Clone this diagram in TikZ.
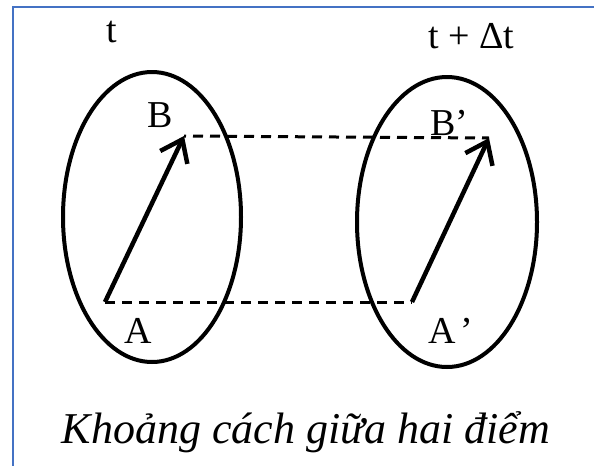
\documentclass[tikz,border=0pt]{standalone}
\usepackage{fontspec}
\setmainfont{Liberation Serif}
\usetikzlibrary{arrows.meta}
\definecolor{framecol}{HTML}{4472C4}
\tikzset{
  lbl/.style={inner sep=0pt,font=\fontsize{38}{44}\selectfont},
  oval/.style={draw=black,line width=4pt},
  vec/.style={line width=4.5pt,-{Straight Barb[length=20pt,width=30pt,line width=4.5pt]}},
  dline/.style={line width=3pt,dash pattern=on 10pt off 7pt}
}
\begin{document}
\begin{tikzpicture}[x=1pt,y=-1pt]
\useasboundingbox[fill=white] (0,0) rectangle (594,466);
\draw[framecol,line width=2pt] (594,7) -- (13,7) -- (13,466);
% ovals
\draw[oval] (152,217) ellipse [x radius=89pt, y radius=145pt];
\draw[oval] (447,222) ellipse [x radius=90pt, y radius=145pt];
% points
\coordinate (a1) at (105,302);
\coordinate (b1) at (184,136);
\coordinate (a2) at (412,302);
\coordinate (b2) at (489,138);
% dashed lines
\draw[dline] (a1) -- (a2);
\draw[dline,dash phase=-9pt] (b1) -- (b2);
% arrows
\draw[vec] (a1) -- (b1);
\draw[vec] (a2) -- (b2);
% labels
\node[lbl,anchor=base] (tl) at (112,42) {t};
\node[lbl,anchor=base west] (tr) at (428,48) {t + Δt};
\node[lbl,anchor=base] (lb) at (160,127) {B};
\node[lbl,anchor=base west] (lb2) at (430,135) {B’};
\node[lbl,anchor=base] (la) at (138,343) {A};
\node[lbl,anchor=base west] (la2) at (428,343) {A\kern5pt’};
\node[inner sep=0pt,anchor=base,font=\fontsize{44}{52}\selectfont\itshape] (cap) at (306,443) {Khoảng cách giữa hai điểm};
\end{tikzpicture}
\end{document}
